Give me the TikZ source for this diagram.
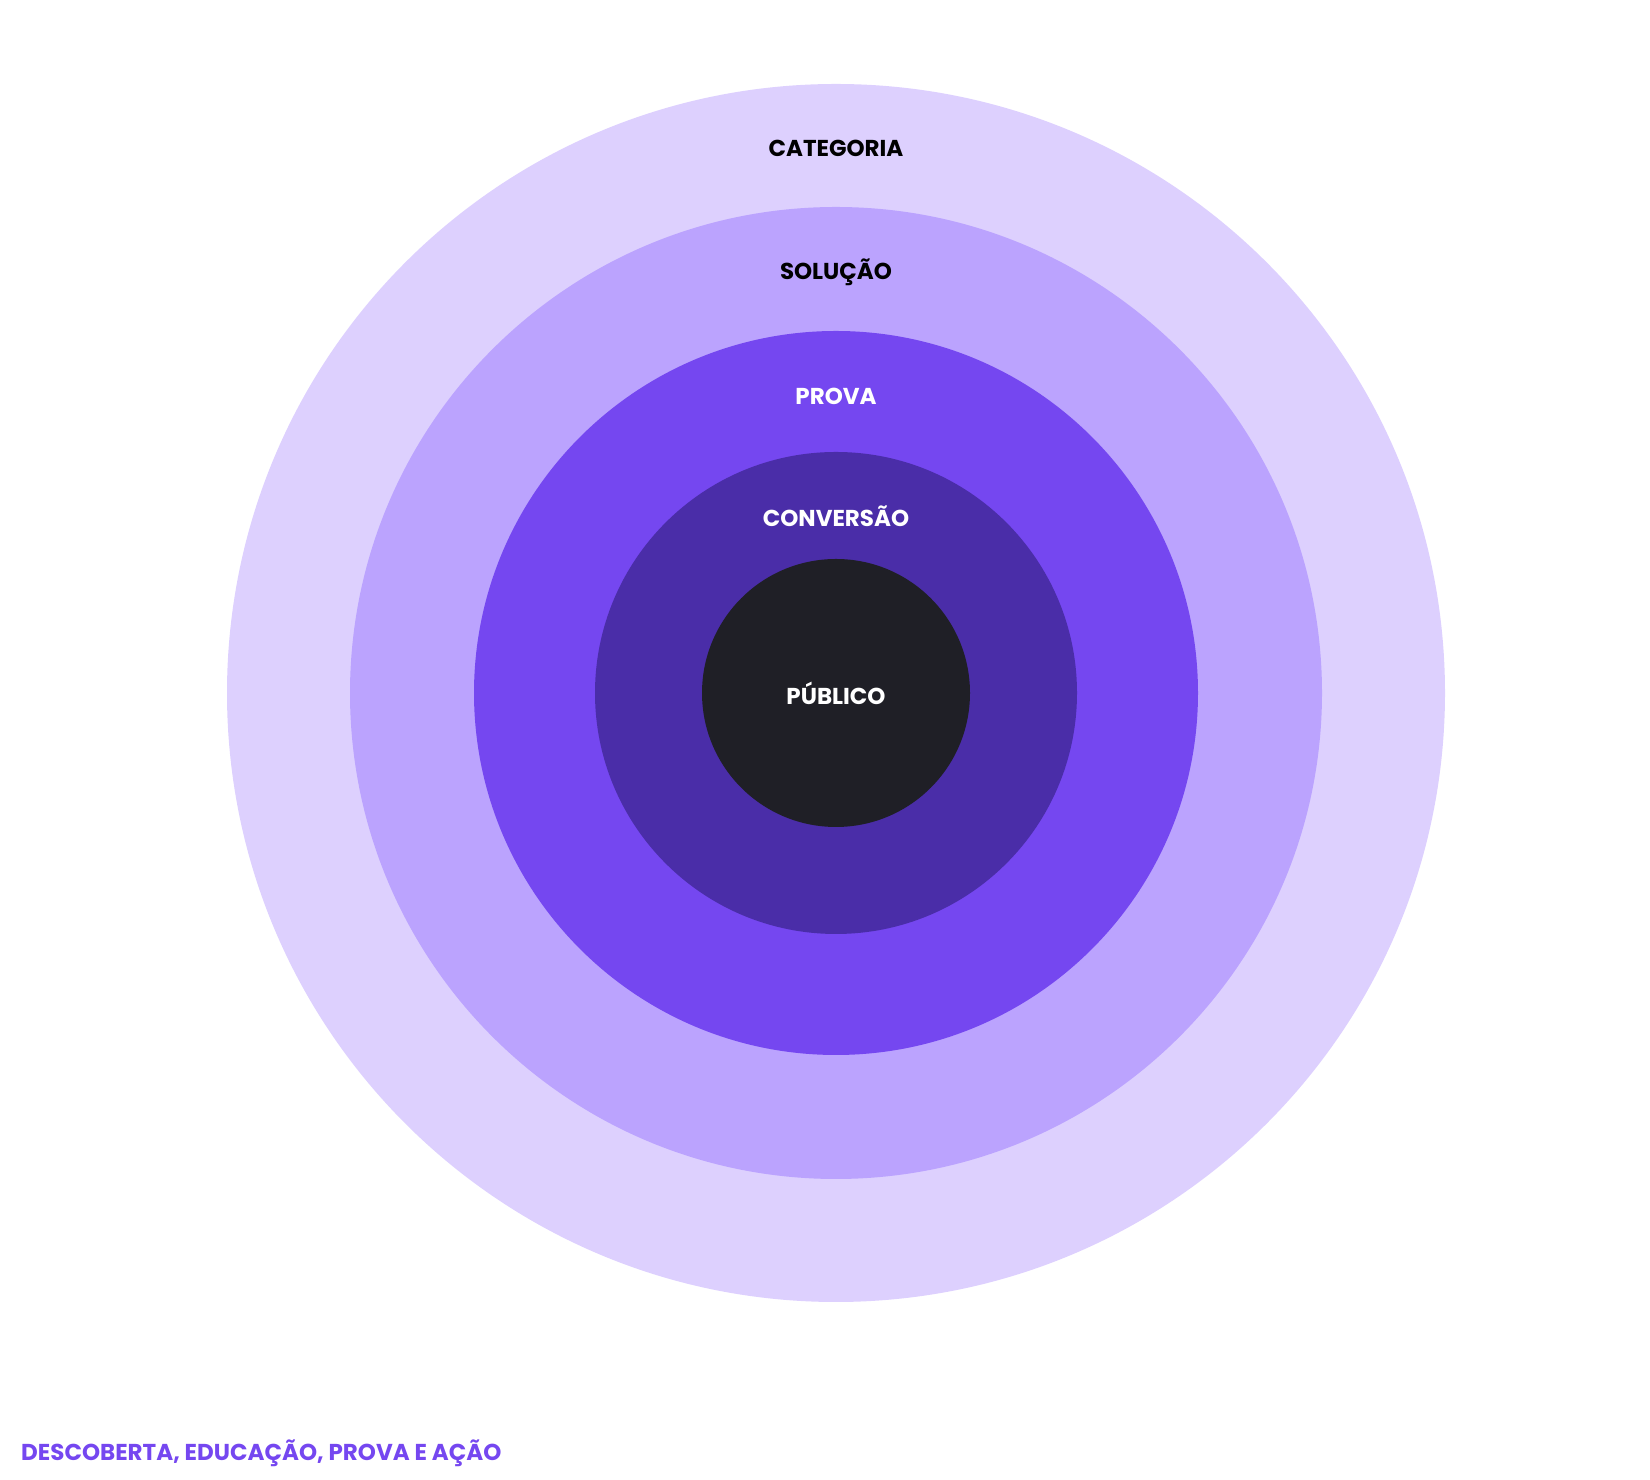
\documentclass[tikz,border=0pt]{standalone}
\usepackage{fontspec}
\setmainfont{Poppins}
\definecolor{ringA}{HTML}{DDD0FE}
\definecolor{ringB}{HTML}{BBA3FE}
\definecolor{ringC}{HTML}{7547F0}
\definecolor{ringD}{HTML}{4A2DA8}
\definecolor{coreC}{HTML}{1F1F26}
\tikzset{
  ring/.style={circle,inner sep=0pt,minimum size=#1},
  lbl/.style={font=\fontsize{23}{26}\selectfont\bfseries}
}
\begin{document}
\begin{tikzpicture}[x=1pt,y=1pt]
	\useasboundingbox (0,0) rectangle (1650,1480);
	% concentric rings, outermost first
	\node[ring=1218pt,fill=ringA] (categoria) at (836,787) {};
	\node[ring=972pt,fill=ringB] (solucao) at (836,787) {};
	\node[ring=724pt,fill=ringC] (prova) at (836,787) {};
	\node[ring=482pt,fill=ringD] (conversao) at (836,787) {};
	\node[ring=268pt,fill=coreC] (publico) at (836,787) {};
	% labels
	\node[lbl,text=black] (tcat) at (836,1332) {CATEGORIA};
	\node[lbl,text=black] (tsol) at (836,1208) {SOLUÇÃO};
	\node[lbl,text=white] (tpro) at (836,1084) {PROVA};
	\node[lbl,text=white] (tcon) at (836,964) {CONVERSÃO};
	\node[lbl,text=white] (tpub) at (publico) {PÚBLICO};
	\node[lbl,text=ringC,anchor=west,inner sep=0pt] (legenda) at (21,27) {DESCOBERTA, EDUCAÇÃO, PROVA E AÇÃO};
\end{tikzpicture}
\end{document}
